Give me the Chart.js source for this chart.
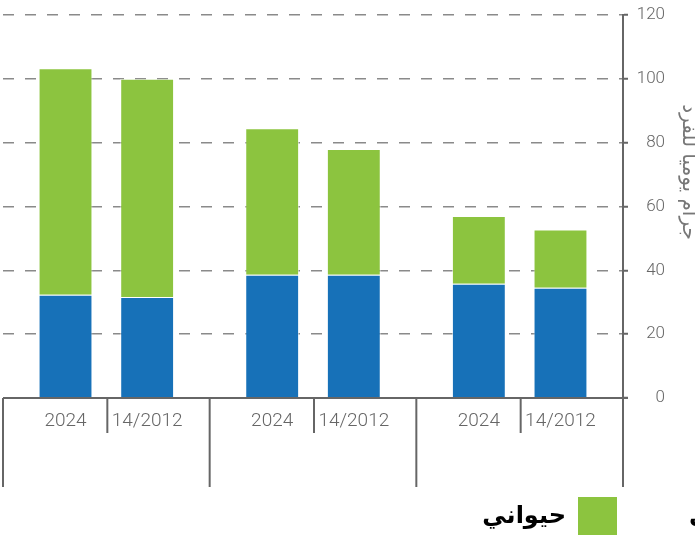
<!DOCTYPE html>
<html>
<head>
<meta charset="utf-8">
<script src="https://cdn.jsdelivr.net/npm/chart.js@4.4.1/dist/chart.umd.min.js"></script>
<style>
  body { margin: 0; background: #fff; overflow: hidden; }
  canvas { display: block; }
</style>
</head>
<body>
<canvas id="chart" width="695" height="541"></canvas>
<script>
const groups = ["", "", ""];
const periods = ["2024", "14/2012"];
const plant2024 = [32.3, 38.6, 35.8];
const animal2024 = [71.0, 45.9, 21.2];
const plant2012 = [31.6, 38.6, 34.5];
const animal2012 = [68.4, 39.4, 18.3];
const yTicks = [0, 20, 40, 60, 80, 100, 120];

const BLUE = "#1771b8";
const GREEN = "#8cc43f";
const AXIS = "#666";
const TICKFONT = "Roboto, 'DejaVu Sans Condensed', sans-serif";
const yTitle = "جرام يومياً للفرد";
const legendItems = [
  { label: "حيواني", color: GREEN },
  { label: "نباتي", color: BLUE },
];

function bar(label, data, stack, color) {
  return {
    label, data, stack,
    backgroundColor: color,
    borderColor: "rgba(255,255,255,0.6)",
    borderWidth: 1,
    borderSkipped: "bottom",
    categoryPercentage: 0.79,
    barPercentage: 0.66,
  };
}

const extras = {
  id: "extras",
  afterDatasetsDraw(chart) {
    const { ctx, chartArea: ca, scales } = chart;
    const x = scales.x, y = scales.y;
    const y0 = y.getPixelForValue(0);
    const step = x.getPixelForValue(1) - x.getPixelForValue(0);
    ctx.save();
    ctx.strokeStyle = AXIS;
    ctx.lineWidth = 2;
    // zero line
    ctx.beginPath();
    ctx.moveTo(ca.left, y0);
    ctx.lineTo(ca.right + 5, y0);
    ctx.stroke();
    // group separators
    for (let i = 0; i <= groups.length; i++) {
      const px = i < groups.length ? x.getPixelForValue(i) - step / 2 : ca.right;
      ctx.beginPath();
      ctx.moveTo(px, y0);
      ctx.lineTo(px, y0 + 89);
      ctx.stroke();
    }
    // separators between periods
    for (let i = 0; i < groups.length; i++) {
      const px = x.getPixelForValue(i) + 1;
      ctx.beginPath();
      ctx.moveTo(px, y0);
      ctx.lineTo(px, y0 + 35);
      ctx.stroke();
    }
    // period labels under each bar
    ctx.fillStyle = AXIS;
    ctx.font = "300 19px " + TICKFONT;
    ctx.textAlign = "center";
    ctx.textBaseline = "middle";
    [0, 2].forEach((di, k) => {
      chart.getDatasetMeta(di).data.forEach((el) => {
        ctx.fillText(periods[k], el.x, y0 + 23);
      });
    });
    // axis title (right, rotated)
    ctx.save();
    ctx.translate(688, 172);
    ctx.rotate(Math.PI / 2);
    ctx.fillStyle = "#777";
    ctx.font = "20px 'DejaVu Sans', sans-serif";
    ctx.fillText(yTitle, 0, 0);
    ctx.restore();
    // legend
    ctx.font = "bold 24px 'DejaVu Sans', sans-serif";
    ctx.textBaseline = "middle";
    ctx.fillStyle = legendItems[0].color;
    ctx.fillRect(578, 497, 39, 38);
    ctx.fillStyle = "#000";
    ctx.textAlign = "right";
    ctx.fillText(legendItems[0].label, 566, 517);
    ctx.textAlign = "left";
    ctx.fillText(legendItems[1].label, 689, 517);
    ctx.restore();
  },
};

new Chart(document.getElementById("chart"), {
  type: "bar",
  data: {
    labels: groups,
    datasets: [
      bar("نباتي", plant2024, "2024", BLUE),
      bar("حيواني", animal2024, "2024", GREEN),
      bar("نباتي", plant2012, "2012", BLUE),
      bar("حيواني", animal2012, "2012", GREEN),
    ],
  },
  options: {
    responsive: false,
    animation: false,
    layout: { padding: { left: 3, top: 14, bottom: 143, right: 30 } },
    plugins: { legend: { display: false }, tooltip: { enabled: false } },
    scales: {
      x: { display: false, stacked: true },
      y: {
        position: "right",
        stacked: true,
        min: 0,
        max: 120,
        afterBuildTicks: (s) => { s.ticks = yTicks.map((v) => ({ value: v })); },
        afterFit: (s) => { s.width = 42; },
        border: { display: true, color: AXIS, width: 2, dash: [11, 11] },
        grid: {
          color: "#8a8a8a",
          lineWidth: 1.5,
          tickColor: AXIS,
          tickWidth: 2,
          tickLength: 5,
          tickBorderDash: [],
        },
        ticks: {
          color: AXIS,
          crossAlign: "far",
          padding: 8,
          font: { family: TICKFONT, size: 17, weight: 300, lineHeight: 0.8 },
        },
      },
    },
  },
  plugins: [extras],
});
</script>
</body>
</html>
